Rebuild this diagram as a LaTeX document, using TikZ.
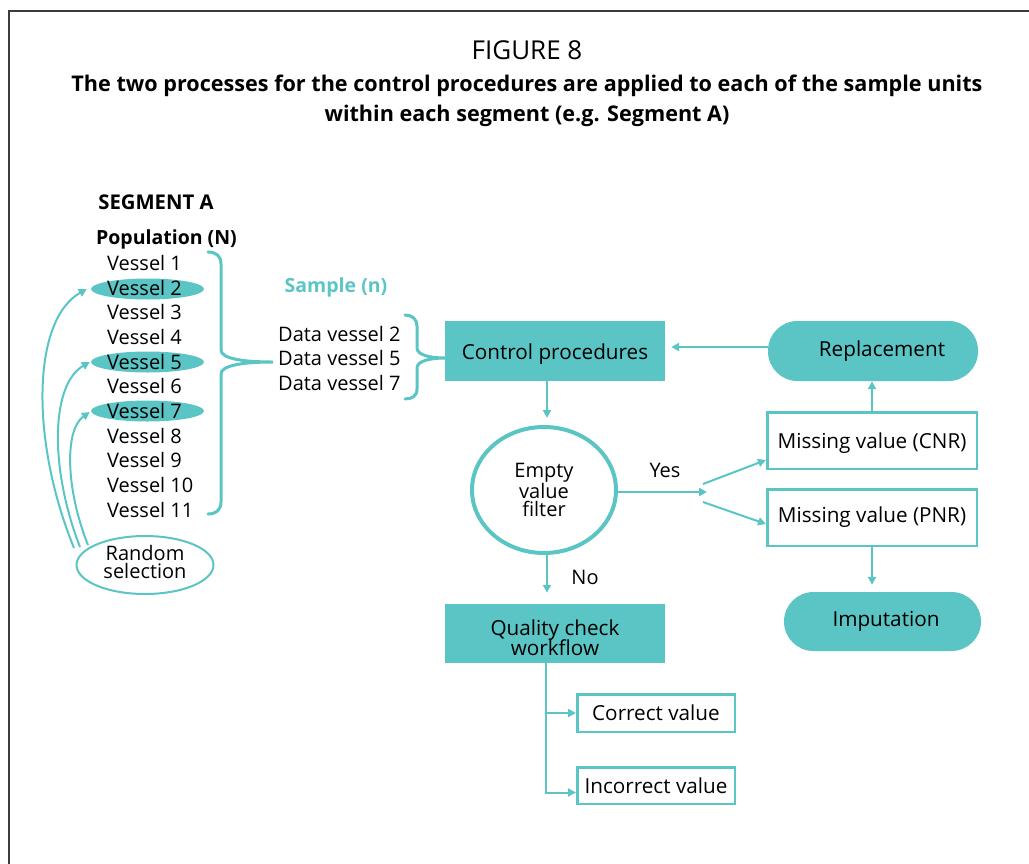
\documentclass[tikz,border=0pt]{standalone}
\usepackage{fontspec}
\setmainfont{Open Sans}
\usetikzlibrary{arrows.meta,shapes.geometric,calc}
\definecolor{aqua}{RGB}{91,197,198}
\definecolor{framegray}{RGB}{60,60,60}
% lower a label inside its box without changing the box size
\newcommand{\lowered}[2]{\raisebox{-#1}[\height][\depth]{#2}}
\begin{document}
\begin{tikzpicture}[x=1pt,y=-1pt,
  txt/.style={inner sep=0pt, font=\fontsize{20}{24}\selectfont},
  boxtxt/.style={inner sep=0pt, font=\fontsize{20.7}{24}\selectfont},
  bold/.style={txt, font=\fontsize{19.5}{24}\selectfont\bfseries},
  tealbox/.style={boxtxt, fill=aqua, draw=none, minimum width=220pt, minimum height=60pt},
  pill/.style={boxtxt, fill=aqua, draw=none, rounded corners=29.5pt},
  outbox/.style={boxtxt, draw=aqua, line width=2.5pt, fill=white},
  hilite/.style={ellipse, fill=aqua, draw=none, minimum width=113pt, minimum height=21pt, inner sep=0pt},
  brace/.style={draw=aqua, line width=3pt, line cap=round},
  conn/.style={draw=aqua, line width=2pt, -{Triangle[length=8pt,width=8pt]}}
]
\useasboundingbox (0,0) rectangle (1029,863);
\draw[framegray, line width=2pt] (9,864) -- (9,11) -- (1030,11);

% heading
\node[txt, font=\fontsize{26}{30}\selectfont] (fig) at (527,50) {FIGURE 8};
\node[bold, font=\fontsize{21.6}{24}\selectfont\bfseries] (cap1) at (527,86) {The two processes for the control procedures are applied to each of the sample units};
\node[bold, font=\fontsize{21.6}{24}\selectfont\bfseries] (cap2) at (527,116) {within each segment (e.g. Segment A)};

% segment A population
\node[bold, font=\fontsize{20.3}{24}\selectfont\bfseries] (seg) at (156,202) {SEGMENT A};
\node[bold] (pop) at (166.5,239) {Population (N)};

\node[hilite] (e2) at (147.5,289) {};
\node[hilite] (e5) at (147.5,362) {};
\node[hilite] (e7) at (147.5,411) {};

\foreach \i/\y in {1/263,2/288,3/312,4/337,5/362,6/386,7/411,8/436,9/460,10/485,11/510}
  \node[txt, anchor=west] (v\i) at (107,\y) {Vessel \i};

% population brace
\draw[brace] (208,252) .. controls (216,252) and (221,256) .. (221,264) -- (221,350)
  .. controls (221,358) and (240,362) .. (273,362)
  .. controls (240,362) and (221,366) .. (221,374) -- (221,502)
  .. controls (221,510) and (216,514) .. (208,514);

% sample
\node[bold, text=aqua] (samp) at (336,287) {Sample (n)};
\node[txt, anchor=west] (d2) at (278,334) {Data vessel 2};
\node[txt, anchor=west] (d5) at (278,358) {Data vessel 5};
\node[txt, anchor=west] (d7) at (278,383) {Data vessel 7};

% sample brace
\draw[brace] (405,315) .. controls (412,315) and (417,319) .. (417,326) -- (417,348)
  .. controls (417,355) and (430,358) .. (445,358)
  .. controls (430,358) and (417,361) .. (417,368) -- (417,389)
  .. controls (417,396) and (412,399) .. (405,399);

% random selection
\node[ellipse, draw=aqua, line width=2pt, fill=white, minimum width=137pt, minimum height=58pt, inner sep=0pt,
      font=\fontsize{20}{18}\selectfont] (rs) at (145,565)
  {\lowered{-0.5pt}{\begin{tabular}{@{}c@{}}Random\\[-3pt]selection\end{tabular}}};
\draw[conn] ($(rs.center)+(-71,-17)$) .. controls (30,440) and (32,320) .. ($(e2.west)+(-4,0)$);
\draw[conn] ($(rs.center)+(-65,-18)$) .. controls (50,470) and (50,385) .. ($(e5.west)+(-1,0)$);
\draw[conn] ($(rs.center)+(-57,-20)$) .. controls (66,490) and (64,430) .. ($(e7.west)+(-1,1)$);

% process flow
\node[tealbox] (cp) at (555,351) {\lowered{3pt}{Control procedures}};
\node[pill, minimum width=210pt, minimum height=60pt] (rep) at (873,351) {\hspace*{18pt}Replacement};
\node[ellipse, draw=aqua, line width=4pt, minimum width=144pt, minimum height=126pt, inner sep=0pt,
      align=center, font=\fontsize{20}{18}\selectfont] (flt) at (544,490) {Empty\\value\\filter};
\node[outbox, minimum width=209.5pt, minimum height=56.5pt] (cnr) at (872,440.5) {\lowered{3pt}{Missing value (CNR)}};
\node[outbox, minimum width=209.5pt, minimum height=56.5pt] (pnr) at (872,517.5) {Missing value (PNR)};
\node[pill, minimum width=197pt, minimum height=59pt] (imp) at (882.5,621.5) {\hspace*{7pt}Imputation};
\node[tealbox, minimum height=59pt, font=\fontsize{20.7}{19}\selectfont] (qc) at (555,633.5)
  {\lowered{7pt}{\begin{tabular}{@{}c@{}}Quality check\\[-1pt]workflow\end{tabular}}};
\node[outbox, minimum width=157.5pt, minimum height=37.5pt] (cv) at (656,713) {Correct value};
\node[outbox, minimum width=157.5pt, minimum height=36.5pt] (iv) at (656,785.5) {Incorrect value};

\node[txt] (yes) at (665,470) {Yes};
\node[txt] (no) at (585,577) {No};

\coordinate (fork) at (707,492);
\coordinate (forka) at (703,484);
\coordinate (forkb) at (703,502);

\draw[conn, shorten >=6pt] ([yshift=4pt]rep.west) -- ([yshift=4pt]cp.east);
\draw[conn, shorten >=7pt] ([xshift=-8pt]cp.south) -- ([xshift=-8pt]cp.south |- flt.north);
\draw[conn] (flt.east |- fork) -- (fork);
\draw[conn] (forka) -- ([yshift=-19.5pt]cnr.west);
\draw[conn] (forkb) -- ([yshift=-6.5pt]pnr.west);
\draw[conn] (cnr.north) -- (cnr.north |- rep.south);
\draw[conn, shorten >=7pt] (pnr.south) -- (pnr.south |- imp.north);
\draw[conn, shorten >=11pt] ([xshift=3pt]flt.south) -- ([xshift=3pt]flt.south |- qc.north);
\draw[conn] ([xshift=-9pt]qc.south) |- (cv.west);
\draw[conn] ([xshift=-9pt]qc.south) |- ([yshift=-7pt]iv.west);
\end{tikzpicture}
\end{document}
